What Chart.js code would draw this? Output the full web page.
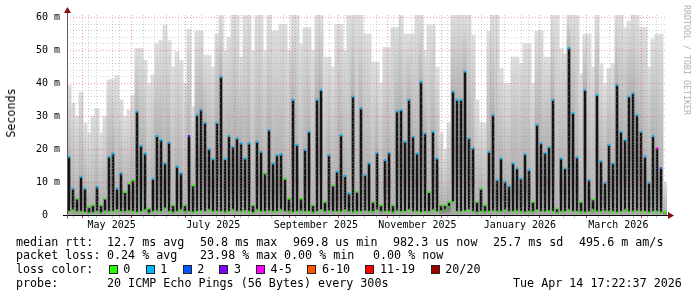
<!DOCTYPE html>
<html>
<head>
<meta charset="utf-8">
<script src="https://cdn.jsdelivr.net/npm/chart.js@4/dist/chart.umd.min.js"></script>
<style>
html,body{margin:0;padding:0;background:#fff;}
#wrap{position:relative;width:697px;height:297px;overflow:hidden;background:#fff;}
#c{position:absolute;left:0;top:0;}
.t{position:absolute;font-family:'DejaVu Sans Mono',monospace;font-size:11.7px;line-height:14px;white-space:pre;color:#000;}
.box{position:absolute;width:7px;height:7px;border:1px solid #222;}
#ylab{position:absolute;left:11px;top:113px;transform:translate(-50%,-50%) rotate(-90deg);font-family:'DejaVu Sans Mono',monospace;font-size:11.7px;white-space:pre;}
#wm{position:absolute;left:688px;top:5px;transform-origin:0 0;transform:translate(4px,0) rotate(90deg);font-family:'DejaVu Sans Mono',monospace;font-size:8.3px;color:#b0b0b0;white-space:pre;}
</style>
</head>
<body>
<div id="wrap">
<canvas id="c" width="697" height="297"></canvas>
<div id="ylab">Seconds</div>
<div id="wm">RRDTOOL / TOBI OETIKER</div>
</div>
<script>
// ---------------- data ----------------
const END_TIME = Date.UTC(2026, 3, 14, 17, 22, 37);
const SPAN_DAYS = 360;
const COL_DAYS = 2.4;           // each smoke column covers 2.4 days

// median peak (ms) reached in each column
const peakMs = [
 17.7, 8, 5, 11.6, 8, 2.5, 3, 8.6, 3, 5,
 17.7, 18.7, 8, 12.7, 7, 9.6, 10.6, 31.4, 21, 18.7,
 2, 11, 24, 22.8, 15.7, 22, 3, 14.7, 12.7, 3,
 24, 9, 30.4, 32, 28, 20, 17, 28, 42, 17,
 24, 20.7, 23.3, 21.8, 17.2, 21.8, 3, 22.3, 19.2, 12.7,
 25.8, 15.7, 18.2, 18.5, 11, 5, 35, 21.3, 5, 19.8,
 25.3, 3, 35, 38, 4, 18.2, 9, 13.2, 24.3, 11.9,
 6.6, 36, 7.1, 32.5, 12.2, 15.7, 4, 18.9, 3, 16.7,
 18.9, 3, 31.5, 31.9, 22.3, 35, 23.8, 18.7, 40.5, 24.8,
 7, 25.3, 17.2, 3, 3, 4, 37.5, 35, 35, 43.6,
 23.3, 20.3, 4, 8, 3, 19.2, 30.4, 10.6, 17.2, 10.1,
 8.8, 15.7, 14.2, 11.1, 18.5, 13.7, 4, 27.4, 21.8, 18.9,
 20.6, 35, 2, 17.2, 14.2, 50.7, 31, 17.5, 4, 38,
 10.6, 4.8, 36.5, 16.4, 9.8, 21.3, 15.7, 39.5, 25.3, 22.8,
 36, 37, 30.4, 25.3, 17.7, 9.8, 24, 20.3, 14.2, 1
];
// lowest median (ms) in each column
const baseMs = [
 1, 1.5, 1, 1, 0.8, 0.6, 0.7, 1, 0.6, 1.2,
 1, 1, 1.5, 1, 1, 1.2, 1, 0.8, 1, 1.5,
 0.6, 1, 1.2, 1, 2, 1, 0.8, 1, 1.5, 1,
 1, 0.8, 1, 1.2, 1, 1.5, 1, 1, 1, 0.8,
 1, 1.5, 1, 1, 1.2, 1, 0.7, 1.5, 1, 1,
 1.2, 1, 1, 1.5, 1, 1, 0.8, 1, 1.2, 1,
 1, 0.8, 1, 1.5, 1, 1.2, 1, 1, 1, 1.5,
 1, 0.8, 1, 1, 1.2, 1, 1, 1.5, 1, 1,
 1, 0.8, 1.2, 1, 1, 1.5, 1, 1, 0.8, 1,
 1, 1.5, 1, 1.2, 1.5, 2.5, 4, 1, 1, 1.2,
 1.5, 1, 0.8, 1, 1, 1, 1.2, 1, 1, 1.5,
 1, 1, 1.2, 1, 0.8, 1, 1, 1.5, 1, 1,
 1.2, 1, 0.8, 1, 1, 1.5, 1, 1, 1, 0.8,
 1, 1.5, 1, 1, 1.2, 1, 1, 0.8, 1, 1.5,
 1, 1, 1.2, 1, 1, 0.8, 1, 1, 0.8, 0.8
];
// top of the smoke (slowest ping, ms) in each column
const smokeTopMs = [
 39.5, 34, 30, 37.4, 28, 25, 30, 32.4, 25, 30,
 41, 41.4, 42.4, 35, 30, 32, 36.4, 50.7, 50.7, 47,
 40, 42.6, 52, 53, 57.7, 53, 45, 49.6, 47, 40,
 56.5, 33, 56, 56, 48.6, 48.6, 45, 55, 61, 50,
 54, 61, 61, 48, 61, 61, 50, 61, 61, 50,
 61, 56, 56, 58, 58, 50, 61, 61, 52, 57,
 57, 50, 61, 61, 48, 48, 45, 58, 58, 50,
 61, 61, 61, 61, 55, 55, 46.5, 46.5, 40, 51,
 51, 57, 57, 61, 55, 55, 55, 61, 61, 50,
 57.8, 57.8, 45, 25, 20, 28, 61, 61, 61, 61,
 61, 54.7, 35, 28, 28, 56, 61, 61, 44.6, 40,
 40, 48, 48, 46, 52, 52, 40, 56, 56, 48,
 48, 61, 61, 50.6, 49, 61, 61, 61, 43, 55,
 55, 45, 61, 46, 40, 44.6, 46, 61, 61, 57,
 59, 61, 61, 57, 57, 45, 53.5, 55, 55, 10
];
// loss class index at the median peak of each column
const topLoss = [
 1,1,0,1,1,0,0,1,0,0,
 1,1,1,1,0,0,0,1,1,1,
 0,1,1,1,1,1,0,1,1,0,
 3,0,1,1,1,1,1,1,1,1,
 1,1,1,1,1,1,0,1,1,0,
 1,1,1,1,0,0,1,1,0,1,
 1,0,1,1,0,1,0,1,1,1,
 1,1,0,1,1,1,0,1,0,1,
 1,0,1,1,1,1,1,1,1,1,
 0,1,1,0,0,0,1,1,1,1,
 1,1,0,0,0,1,1,1,1,1,
 1,1,1,1,1,1,0,1,1,1,
 1,1,0,1,1,1,1,1,0,1,
 1,0,1,1,1,1,1,1,1,1,
 1,1,1,1,1,1,1,4,2,0
];
const lossColors = ['#26ff00','#00b8ff','#0059ff','#7e00ff','#ff00ff','#ff5500','#ff0000','#a10000'];
const lossLabels = ['0','1','2','3','4-5','6-10','11-19','20/20'];
const monthNames = ['January','February','March','April','May','June','July','August','September','October','November','December'];
const labelMonths = [[2025,4],[2025,6],[2025,8],[2025,10],[2026,0],[2026,2]];
const yTickValues = [0,2,4,6,8,10,12,14,16,18,20,22,24,26,28,30,32,34,36,38,40,42,44,46,48,50,52,54,56,58,60];
const yMax = 60.8;

// ---------------- derived positions ----------------
const DAY = 86400000;
const START_TIME = END_TIME - SPAN_DAYS * DAY;
const colX = peakMs.map((_, i) => START_TIME + (i + 0.5) * COL_DAYS * DAY);

const monthStarts = [];
for (let y = 2025, m = 4; ; ) {
  const t = Date.UTC(y, m, 1);
  if (t > END_TIME) break;
  monthStarts.push(t);
  m++; if (m > 11) { m = 0; y++; }
}
const weekStarts = [];
for (let t = Date.UTC(2025, 3, 20); t < END_TIME; t += 7 * DAY) weekStarts.push(t);
const labelTicks = labelMonths.map(([y, m]) => {
  const a = Date.UTC(y, m, 1), b = Date.UTC(m === 11 ? y + 1 : y, (m + 1) % 12, 1);
  return { value: (a + b) / 2, text: monthNames[m] + ' ' + y };
});
const monthSet = new Set(monthStarts);
const weekSet = new Set(weekStarts);
const labelMap = new Map(labelTicks.map(l => [l.value, l.text]));

const MAJOR = 'rgba(240,60,60,0.5)';
const MINOR = 'rgba(150,150,150,0.45)';
const NONE = 'rgba(0,0,0,0)';

// ---------------- styling helpers ----------------
function barGrad(chart, lo, mid, hi, stops) {
  const { ctx, scales } = chart;
  const y0 = scales.y.getPixelForValue(lo), y1 = scales.y.getPixelForValue(Math.max(hi, lo + 0.1));
  const g = ctx.createLinearGradient(0, y0, 0, y1);
  const f = Math.min(0.999, Math.max(0.001, (mid - lo) / (Math.max(hi, lo + 0.1) - lo)));
  g.addColorStop(0, stops[0]);
  g.addColorStop(f, stops[1]);
  g.addColorStop(1, stops[2]);
  return g;
}

const axesPlugin = {
  id: 'axesArrows',
  afterDraw(chart) {
    const c = chart.ctx, a = chart.chartArea;
    const y0 = Math.round(chart.scales.y.getPixelForValue(0)) + 0.5;
    const xl = Math.round(a.left) + 0.5;
    c.save();
    c.lineWidth = 1;
    c.strokeStyle = '#000';
    c.beginPath(); c.moveTo(63, y0); c.lineTo(a.right + 2, y0); c.stroke();
    c.strokeStyle = '#5a5a5a';
    c.beginPath(); c.moveTo(xl, y0 + 3); c.lineTo(xl, a.top - 3); c.stroke();
    c.fillStyle = '#7f1010';
    c.beginPath(); c.moveTo(xl, a.top - 8); c.lineTo(xl - 3.5, a.top - 2); c.lineTo(xl + 3.5, a.top - 2); c.closePath(); c.fill();
    c.beginPath(); c.moveTo(a.right + 7, y0); c.lineTo(a.right + 1, y0 - 3.5); c.lineTo(a.right + 1, y0 + 3.5); c.closePath(); c.fill();
    c.restore();
  }
};

const barCommon = { type: 'bar', grouped: false, borderWidth: 0, borderSkipped: false };
const topOf = (i) => Math.max(peakMs[i], baseMs[i]);

new Chart(document.getElementById('c'), {
  data: {
    datasets: [
      Object.assign({}, barCommon, {
        label: 'smoke', order: 5, barThickness: 4.3,
        data: colX.map((x, i) => ({ x, y: [0, smokeTopMs[i]] })),
        backgroundColor: (ctx) => ctx.chart.chartArea
          ? barGrad(ctx.chart, 0, topOf(ctx.dataIndex), smokeTopMs[ctx.dataIndex], ['#bcbcbc', '#b4b4b4', '#dedede'])
          : '#d8d8d8'
      }),
      Object.assign({}, barCommon, {
        label: 'dense smoke', order: 4, barThickness: 3,
        data: colX.map((x, i) => ({ x, y: [0, topOf(i)] })),
        backgroundColor: (ctx) => ctx.chart.chartArea
          ? barGrad(ctx.chart, 0, topOf(ctx.dataIndex) * 0.5, topOf(ctx.dataIndex), ['#a8a8a8', '#747474', '#909090'])
          : '#777'
      }),
      Object.assign({}, barCommon, {
        label: 'median', order: 3, barThickness: 1.5,
        data: colX.map((x, i) => ({ x, y: [baseMs[i], topOf(i)] })),
        backgroundColor: '#141414'
      }),
      {
        type: 'line', label: 'base', order: 2, showLine: false,
        data: colX.map((x, i) => ({ x, y: baseMs[i] })),
        pointStyle: 'rect', pointRadius: 1.2, pointBorderWidth: 0,
        pointBackgroundColor: lossColors[0]
      },
      {
        type: 'line', label: 'peak', order: 1, showLine: false,
        data: colX.map((x, i) => ({ x, y: peakMs[i] })),
        pointStyle: 'rect', pointRadius: 1.5, pointBorderWidth: 0,
        pointBackgroundColor: (ctx) => lossColors[topLoss[ctx.dataIndex]]
      }
    ]
  },
  options: {
    responsive: false, animation: false, devicePixelRatio: 1,
    events: [],
    layout: { padding: { left: 0, right: 30, top: 15, bottom: 61 } },
    plugins: { legend: { display: false }, tooltip: { enabled: false } },
    scales: {
      x: {
        type: 'linear', min: START_TIME, max: END_TIME, offset: false,
        afterBuildTicks: (s) => {
          const vals = new Set([...weekStarts, ...monthStarts, ...labelTicks.map(l => l.value)]);
          s.ticks = [...vals].sort((a, b) => a - b).map(v => ({ value: v }));
        },
        afterFit: (s) => { s.height = 21; },
        grid: {
          z: 1, drawTicks: true, tickLength: 3,
          color: (ctx) => !ctx.tick ? NONE : monthSet.has(ctx.tick.value) ? MAJOR : weekSet.has(ctx.tick.value) ? MINOR : NONE,
          tickColor: (ctx) => !ctx.tick ? NONE : monthSet.has(ctx.tick.value) ? 'rgba(200,40,40,0.9)' : weekSet.has(ctx.tick.value) ? 'rgba(150,150,150,0.6)' : NONE
        },
        border: { display: false, dash: [1, 2] },
        ticks: {
          autoSkip: false, maxRotation: 0, minRotation: 0, padding: 1,
          color: '#000',
          font: { family: "'DejaVu Sans Mono', monospace", size: 10 },
          callback: (v) => labelMap.get(v) || ''
        }
      },
      y: {
        type: 'linear', min: 0, max: yMax,
        afterBuildTicks: (s) => { s.ticks = yTickValues.map(v => ({ value: v })); },
        afterFit: (s) => { s.width = 67; },
        grid: {
          z: 1, drawTicks: false,
          color: (ctx) => !ctx.tick || ctx.tick.value === 0 ? NONE : (ctx.tick.value % 10 === 0 ? MAJOR : MINOR)
        },
        border: { display: false, dash: [1, 2] },
        ticks: {
          padding: 7, color: '#000', autoSkip: false,
          font: { family: "'DejaVu Sans Mono', monospace", size: 10 },
          callback: (v) => v === 0 ? '0  ' : (v % 10 === 0 ? v + ' m' : '')
        }
      }
    }
  },
  plugins: [axesPlugin]
});

// ---------------- legend text (HTML) ----------------
const wrap = document.getElementById('wrap');
function txt(x, cy, s) {
  const d = document.createElement('div');
  d.className = 't'; d.textContent = s;
  d.style.left = x + 'px'; d.style.top = (cy - 7) + 'px';
  wrap.appendChild(d);
}
const legendRows = [
  [241.7, [[16,'median rtt:'],[107,'12.7 ms avg'],[200,'50.8 ms max'],[293,'969.8 us min'],[393,'982.3 us now'],[493,'25.7 ms sd'],[579,'495.6 m am/s']]],
  [255.3, [[16,'packet loss:'],[107,'0.24 % avg'],[200,'23.98 % max'],[284,'0.00 % min'],[373,'0.00 % now']]],
  [269, [[16,'loss color:']]],
  [282.7, [[16,'probe:'],[107,'20 ICMP Echo Pings (56 Bytes) every 300s'],[513,'Tue Apr 14 17:22:37 2026']]]
];
legendRows.forEach(([cy, segs]) => segs.forEach(([x, s]) => txt(x, cy, s)));
const boxX = [108.7, 145.7, 182.7, 219.3, 256, 307.3, 365.3, 430.7];
lossLabels.forEach((lab, i) => {
  const b = document.createElement('div');
  b.className = 'box';
  b.style.left = boxX[i] + 'px'; b.style.top = '264.5px';
  b.style.background = lossColors[i];
  wrap.appendChild(b);
  txt(boxX[i] + 14.6, 269, lab);
});
</script>
</body>
</html>
